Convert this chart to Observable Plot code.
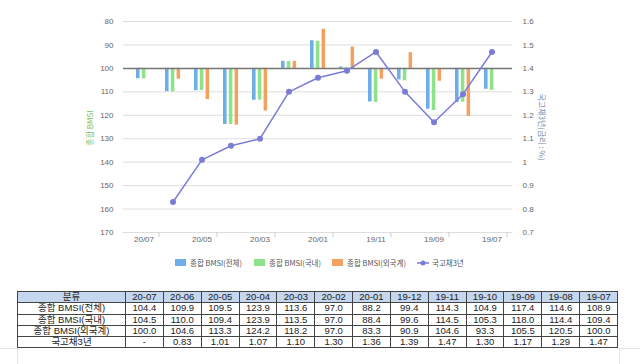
<!DOCTYPE html>
<html>
<head>
<meta charset="utf-8">
<script src="https://cdn.jsdelivr.net/npm/d3@7"></script>
<script src="https://cdn.jsdelivr.net/npm/@observablehq/plot@0.6"></script>
<style>
  html, body { margin: 0; padding: 0; background: #fff; }
  #wrap { position: relative; width: 640px; height: 364px; overflow: hidden; font-family: "Liberation Sans", Arial, sans-serif; }
  #chart { position: absolute; left: 0; top: 0; }
  #legend { position: absolute; top: 257px; left: 0; width: 640px; height: 12px; font-size: 7.5px; color: #555; font-family: "Noto Sans CJK KR", "Liberation Sans", sans-serif; }
  .lg { position: absolute; top: 0; display: flex; align-items: center; white-space: nowrap; }
  .sw { width: 11px; height: 7px; margin-right: 4px; }
  #tbl { position: absolute; left: 17px; top: 291px; border-collapse: collapse; font-size: 9.5px; color: #222; table-layout: fixed; font-family: "Liberation Sans", "Noto Sans CJK KR", sans-serif; }
  #tbl td, #tbl th { border: 1px solid #444; height: 10.3px; line-height: 10px; padding: 0; text-align: center; font-weight: normal; overflow: hidden; white-space: nowrap; }
  #tbl th { background: #c5d7ee; }
</style>
</head>
<body>
<div id="wrap">
  <div id="chart"></div>
  <div id="legend"></div>
  <table id="tbl"></table>
  <div style="position:absolute;left:0;top:348px;width:17px;height:1px;background:#e4e4e4"></div>
  <div style="position:absolute;left:17px;top:348px;width:1px;height:16px;background:#e4e4e4"></div>
  <div style="position:absolute;left:619px;top:348px;width:21px;height:1px;background:#e4e4e4"></div>
  <div style="position:absolute;left:619px;top:348px;width:1px;height:16px;background:#e4e4e4"></div>
</div>
<script>
// ---- data ----
const categories = ["20-07","20-06","20-05","20-04","20-03","20-02","20-01","19-12","19-11","19-10","19-09","19-08","19-07"];
const bmsiTotal    = [104.4,109.9,109.5,123.9,113.6,97.0,88.2,99.4,114.3,104.9,117.4,114.6,108.9];
const bmsiDomestic = [104.5,110.0,109.4,123.9,113.5,97.0,88.4,99.6,114.5,105.3,118.0,114.4,109.4];
const bmsiForeign  = [100.0,104.6,113.3,124.2,118.2,97.0,83.3,90.9,104.6,93.3,105.5,120.5,100.0];
const bond3y       = [null,0.83,1.01,1.07,1.10,1.30,1.36,1.39,1.47,1.30,1.17,1.29,1.47];
const seriesNames  = ["종합 BMSI(전체)","종합 BMSI(국내)","종합 BMSI(외국계)","국고채3년"];
const colors       = ["#6eaee6","#8ee38a","#f4a05e","#7b7bd8"];
const leftTicks    = [80,90,100,110,120,130,140,150,160,170];
const rightTicks   = [0.7,0.8,0.9,1.0,1.1,1.2,1.3,1.4,1.5,1.6];

// right axis (rate) mapped onto left axis: 1.6 -> 80, 0.7 -> 170
const toLeft = r => 240 - 100 * r;
const toRate = v => (240 - v) / 100;

const rows = categories.map((c, i) => ({cat: c, total: bmsiTotal[i], dom: bmsiDomestic[i], fgn: bmsiForeign[i], rate: bond3y[i]}));
const rateRows = rows.filter(d => d.rate != null);

const W = 640, H = 250, ML = 123, MR = 128;
const bw = (W - ML - MR) / categories.length;

const chart = Plot.plot({
  width: W, height: H,
  marginLeft: ML, marginRight: MR, marginTop: 21, marginBottom: 18,
  style: {fontFamily: "'Liberation Sans', Arial, sans-serif", fontSize: "8px", color: "#666", background: "transparent"},
  x: {type: "band", domain: categories, padding: 0},
  y: {domain: [80, 170], reverse: true},
  marks: [
    Plot.ruleY(leftTicks, {stroke: "#dedede", strokeWidth: 1}),
    Plot.barY(rows, {x: "cat", y1: () => 100, y2: "total", fill: colors[0], insetLeft: 7, insetRight: bw - 11.5}),
    Plot.barY(rows, {x: "cat", y1: () => 100, y2: "dom", fill: colors[1], insetLeft: 12.8, insetRight: bw - 17.3}),
    Plot.barY(rows, {x: "cat", y1: () => 100, y2: "fgn", fill: colors[2], insetLeft: 18.6, insetRight: bw - 23}),
    Plot.ruleY([100], {stroke: "#777", strokeWidth: 1.5}),
    Plot.line(rateRows, {x: "cat", y: d => toLeft(d.rate), stroke: colors[3], strokeWidth: 1.5}),
    Plot.dot(rateRows, {x: "cat", y: d => toLeft(d.rate), r: 3, fill: colors[3]}),
    Plot.axisY(leftTicks, {anchor: "left", tickSize: 0, tickPadding: 10, fill: "#666", label: null}),
    Plot.axisY(rightTicks.map(toLeft), {anchor: "right", tickSize: 0, tickPadding: 10, fill: "#666", label: null,
      tickFormat: v => String(+toRate(v).toFixed(1))}),
    Plot.axisX(categories.filter((c, i) => i % 2 === 0), {anchor: "bottom", tickSize: 0, tickPadding: 4, fill: "#666", label: null,
      tickFormat: d => d.replace("-", "/")}),
    Plot.ruleX(categories.filter((c, i) => i % 2 === 0), {x: d => d, y1: () => 170, y2: () => 172.2, dx: bw / 2, stroke: "#ccc"}),
    Plot.text(["종합 BMSI"], {frameAnchor: "left", textAnchor: "middle", dx: -33, dy: 1, rotate: -90, fill: "#7cbf5a", fontSize: 8,
      fontFamily: "'Noto Sans CJK KR', sans-serif"}),
    Plot.text(["국고채3년(금리 : %)"], {frameAnchor: "right", textAnchor: "middle", dx: 29, dy: 0, rotate: 90, fill: "#7a88a8", fontSize: 8,
      fontFamily: "'Noto Sans CJK KR', sans-serif"})
  ]
});
document.getElementById("chart").appendChild(chart);

// legend
const legend = document.getElementById("legend");
const lgX = [175, 254, 332, 417];
seriesNames.forEach((name, i) => {
  const item = document.createElement("div");
  item.className = "lg";
  item.style.left = lgX[i] + "px";
  if (i < 3) {
    item.innerHTML = `<span class="sw" style="background:${colors[i]}"></span><span>${name}</span>`;
  } else {
    item.innerHTML = `<svg width="12" height="8" style="margin-right:3px"><line x1="0" y1="4" x2="12" y2="4" stroke="${colors[3]}" stroke-width="1.5"/><circle cx="6" cy="4" r="2.5" fill="${colors[3]}"/></svg><span>${name}</span>`;
  }
  legend.appendChild(item);
});

// table
const tbl = document.getElementById("tbl");
const colW = 37.85;
let html = `<colgroup><col style="width:108px">${categories.map(() => `<col style="width:${colW}px">`).join("")}</colgroup>`;
html += `<tr><th>분류</th>${categories.map(c => `<th>${c}</th>`).join("")}</tr>`;
const tRows = [
  [seriesNames[0], bmsiTotal.map(v => v.toFixed(1))],
  [seriesNames[1], bmsiDomestic.map(v => v.toFixed(1))],
  [seriesNames[2], bmsiForeign.map(v => v.toFixed(1))],
  [seriesNames[3], bond3y.map(v => v == null ? "-" : v.toFixed(2))]
];
tRows.forEach(([name, vals]) => {
  html += `<tr><td>${name}</td>${vals.map(v => `<td>${v}</td>`).join("")}</tr>`;
});
tbl.innerHTML = html;
</script>
</body>
</html>
